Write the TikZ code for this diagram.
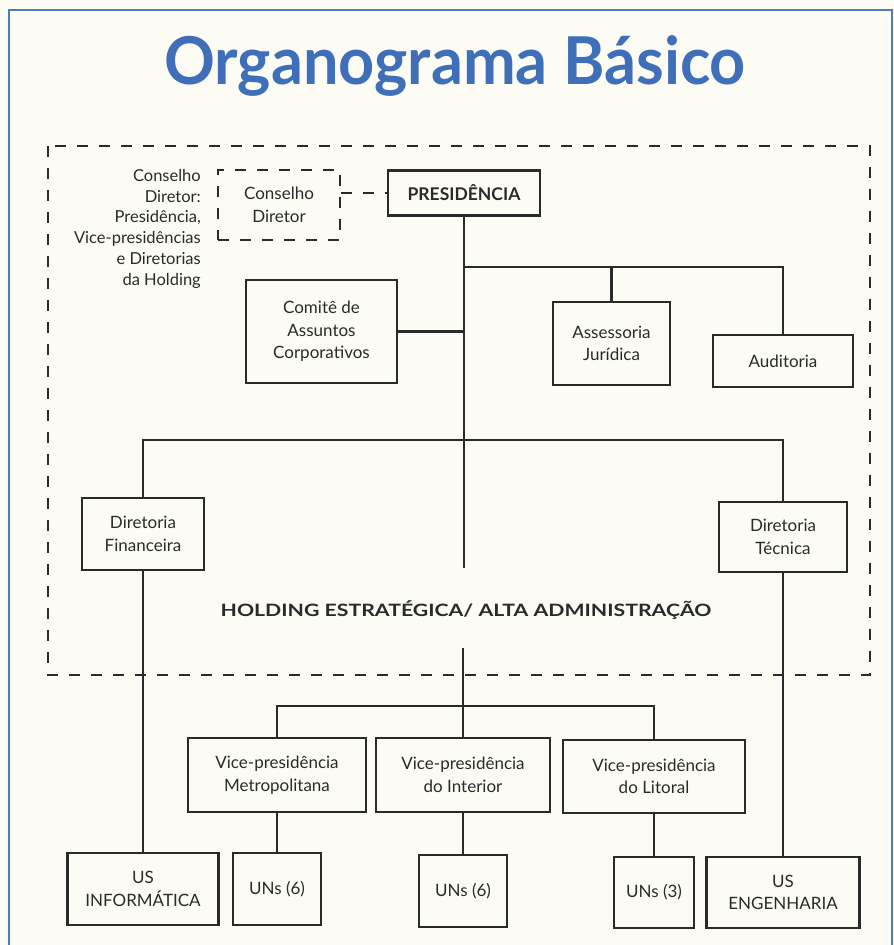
\documentclass[tikz,border=0pt]{standalone}
\usepackage{fontspec}
\setmainfont{Lato}
\definecolor{paper}{HTML}{FCFCF5}
\definecolor{titleblue}{HTML}{3F6FB8}
\definecolor{framblue}{HTML}{4A7CC4}
\definecolor{ink}{HTML}{2A2A2A}
\begin{document}
\begin{tikzpicture}[x=1pt,y=-1pt,
  orgbox/.style={draw=ink,line width=2.6pt,fill=paper,inner sep=0pt,align=center,
    text=ink,font=\fontsize{17}{22.5}\selectfont},
  conn/.style={draw=ink,line width=2.2pt},
  dashbox/.style={draw=ink,line width=2.6pt,dash pattern=on 11pt off 11pt},
  sidetext/.style={text=ink,font=\fontsize{16.5}{20.8}\selectfont,align=right,inner sep=0pt}]
\fill[paper] (0,0) rectangle (894,945);
\useasboundingbox (0,0) rectangle (894,945);
\draw[framblue,line width=2pt] (9,945) -- (9,10) -- (892,10) -- (892,945);

\node[text=titleblue,font=\fontsize{66}{70}\selectfont\bfseries] (title) at (455,66) {\scalebox{0.955}[1]{Organograma Básico}};

% outer dashed region
\draw[dashbox] (48,146) rectangle (870,675);

\node[sidetext,anchor=north east] (cdtext) at (201,169) {Conselho\\Diretor:\\Presidência,\\Vice-presidências\\e Diretorias\\da Holding};

\node[orgbox,dashbox,minimum width=122pt,minimum height=70pt] (cd) at (279,205) {Conselho\\Diretor};
\node[orgbox,minimum width=152pt,minimum height=45pt,font=\fontsize{17.5}{20}\selectfont\bfseries] (pres) at (464,193) {PRESIDÊNCIA};
\node[orgbox,minimum width=151pt,minimum height=103pt] (com) at (321.5,331.5) {Comitê de\\Assuntos\\Corporativos};
\node[orgbox,minimum width=117pt,minimum height=83pt] (ass) at (611.5,343.5) {Assessoria\\Jurídica};
\node[orgbox,minimum width=140pt,minimum height=52pt] (aud) at (783,361) {Auditoria};
\node[orgbox,minimum width=122pt,minimum height=72pt] (fin) at (143,534) {Diretoria\\Financeira};
\node[orgbox,minimum width=128pt,minimum height=70pt] (tec) at (783,537) {Diretoria\\Técnica};

\node[text=ink,font=\fontsize{17}{20}\selectfont\bfseries] (hold) at (466,610) {\scalebox{1.25}[1]{HOLDING ESTRATÉGICA/ ALTA ADMINISTRAÇÃO}};

\node[orgbox,minimum width=178pt,minimum height=74pt] (vpm) at (277,775) {Vice-presidência\\Metropolitana};
\node[orgbox,minimum width=174pt,minimum height=74pt] (vpi) at (463,775) {Vice-presidência\\do Interior};
\node[orgbox,minimum width=182pt,minimum height=73pt] (vpl) at (654,776.5) {Vice-presidência\\do Litoral};

\node[orgbox,minimum width=151pt,minimum height=72pt] (usi) at (143,889) {US\\INFORMÁTICA};
\node[orgbox,minimum width=88pt,minimum height=72pt] (un1) at (277,889) {UNs (6)};
\node[orgbox,minimum width=88pt,minimum height=72pt] (un2) at (463,891) {UNs (6)};
\node[orgbox,minimum width=80pt,minimum height=71pt] (un3) at (654,892.5) {UNs (3)};
\node[orgbox,minimum width=153pt,minimum height=71pt] (use) at (783,892.5) {US\\ENGENHARIA};

% connectors
\coordinate (t1) at (464,568);
\coordinate (t2) at (463,648);
\coordinate (b1) at (464,267);
\coordinate (b2) at (464,440);
\coordinate (b3) at (463,706);

\draw[dashbox,line width=2.4pt] (cd.east |- pres.west) -- (pres.west);
\draw[conn] (pres.south) -- (t1);
\draw[conn] (t2) -- (vpi.north);
\draw[conn] (com.east) -- (com.east -| pres.south);
\draw[conn] (ass.north) |- (b1) -| (aud.north);
\draw[conn] (fin.north) |- (b2) -| (tec.north);
\draw[conn] (fin.south) -- (usi.north);
\draw[conn] (tec.south) -- (use.north);
\draw[conn] (vpm.north) |- (b3) -| (vpl.north);
\draw[conn] (vpm.south) -- (un1.north);
\draw[conn] (vpi.south) -- (un2.north);
\draw[conn] (vpl.south) -- (un3.north);
\end{tikzpicture}
\end{document}
